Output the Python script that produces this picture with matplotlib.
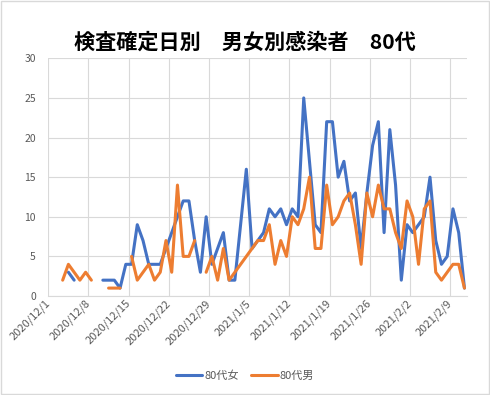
import numpy as np
import pandas as pd
import matplotlib
matplotlib.use("Agg")
import matplotlib.pyplot as plt
import matplotlib.transforms as mtransforms
from matplotlib.patches import Rectangle

plt.rcParams['font.family'] = ['Noto Sans CJK JP', 'DejaVu Sans']

# daily dates, 2021/1/3 has no row in the sheet
dates = pd.date_range('2020-12-01', '2021-02-11', freq='D')
dates = dates[dates != pd.Timestamp('2021-01-03')]

# 80代女 (None = blank cell)
female = [None, None, None, 3, 2, None, None, None, None, 2,
          2, 2, 1, 4, 4, 9, 7, 4, 4, 4,
          6, 8, 10, 12, 12, 7, 3, 10, 4, 6,
          8, 2, 2, 16, 6, 7, 8, 11, 10,
          11, 9, 11, 10, 25, 17, 9, 8, 22, 22,
          15, 17, 12, 13, 6, 13, 19, 22, 8, 21,
          14, 2, 9, 8, 9, 10, 15, 7, 4, 5,
          11, 8, 1]

# 80代男
male = [None, None, 2, 4, 3, 2, 3, 2, None, None,
        1, 1, 1, None, 5, 2, 3, 4, 2, 3,
        7, 3, 14, 5, 5, 7, None, 3, 5, 2,
        6, 2, 3, 5, 6, 7, 7, 9, 4,
        7, 5, 10, 9, 11, 15, 6, 6, 14, 9,
        10, 12, 13, 9, 4, 13, 10, 14, 11, 11,
        8, 6, 12, 10, 4, 11, 12, 3, 2, 3,
        4, 4, 1]

series_names = ['80代女', '80代男']
series_colors = ['#4472C4', '#ED7D31']
title = '検査確定日別　男女別感染者　80代'

female = np.array([np.nan if v is None else v for v in female], dtype=float)
male = np.array([np.nan if v is None else v for v in male], dtype=float)

fig = plt.figure(figsize=(4.9, 3.95), dpi=100)
ax = fig.add_axes([0.0986, 0.2506, 0.8551, 0.6018])

# Excel date axis: points sit in the middle of each day slot
xpos = dates + pd.Timedelta(hours=12)
for vals, name, col in zip([female, male], series_names, series_colors):
    ax.plot(xpos, vals, color=col, lw=2.2, label=name, solid_capstyle='round',
            solid_joinstyle='round')

ax.set_xlim(pd.Timestamp('2020-12-01'), pd.Timestamp('2021-02-12'))
ax.set_ylim(0, 30)
ax.set_yticks(range(0, 31, 5))
ticks = pd.date_range('2020-12-01', '2021-02-09', freq='7D')
ax.set_xticks(ticks)
ax.set_xticklabels([f'{d.year}/{d.month}/{d.day}' for d in ticks],
                   rotation=45, ha='right', va='center', rotation_mode='anchor')
shift = mtransforms.ScaledTranslation(5 / 100, -5 / 100, fig.dpi_scale_trans)
for lab in ax.get_xticklabels():
    lab.set_transform(lab.get_transform() + shift)

ax.grid(True, color='#D9D9D9', lw=0.8)
ax.set_axisbelow(True)
for s in ['top', 'right', 'left']:
    ax.spines[s].set_visible(False)
ax.spines['bottom'].set_color('#D9D9D9')
ax.tick_params(length=0, colors='#595959')
ax.tick_params(axis='x', labelsize=8, pad=4)
ax.tick_params(axis='y', labelsize=7.5, pad=9)

fig.text(0.5, 1 - 42 / 395, title, ha='center', va='center',
         fontsize=15.2, fontweight='bold', color='black')

fig.legend(loc='center', bbox_to_anchor=(0.5, 1 - 376 / 395), ncol=2,
           frameon=False, fontsize=8, handlelength=2.4, columnspacing=1.1,
           handletextpad=0.2, labelcolor='#595959')

fig.patches.append(Rectangle((0.002, 0.002), 0.996, 0.996, transform=fig.transFigure,
                             fill=False, edgecolor='#D9D9D9', lw=1))

fig.savefig('out.png', dpi=100)
